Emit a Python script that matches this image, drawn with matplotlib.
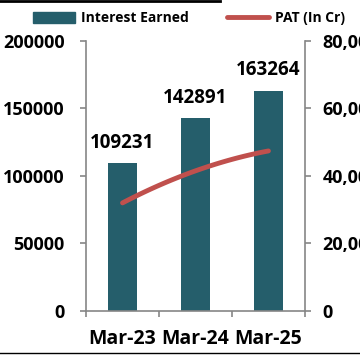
import numpy as np
import matplotlib.pyplot as plt
from matplotlib.lines import Line2D

periods = ['Mar-23', 'Mar-24', 'Mar-25']
interest_earned = [109231, 142891, 163264]
pat = [32000, 41500, 47400]

teal = '#255E6B'
red = '#C0504D'
grey = '#868686'

plt.rcParams['font.family'] = ['Open Sans', 'DejaVu Sans']
plt.rcParams['font.weight'] = 'bold'

fig = plt.figure(figsize=(3.6, 3.59), dpi=100)
ax = fig.add_axes([0.239, 0.134, 0.608, 0.752])
x = np.arange(len(periods))
ax.bar(x, interest_earned, width=0.4, color=teal)
for xi, v in zip(x, interest_earned):
    ax.text(xi, v + 7500, str(v), ha='center', va='bottom', fontsize=13.5, fontweight='bold')

ax.set_xlim(-0.5, 2.5)
ax.set_ylim(0, 200000)
ax.set_yticks([0, 50000, 100000, 150000, 200000])
ax.set_xticks(x)
ax.set_xticklabels(periods, fontsize=14, fontweight='bold')
ax.set_xticks([-0.5, 0.5, 1.5, 2.5], minor=True)
ax.tick_params(axis='x', which='major', length=0, pad=13)
ax.tick_params(axis='x', which='minor', length=4.5, color=grey, width=1.2)
ax.tick_params(axis='y', length=4.5, color=grey, width=1.2, labelsize=13, pad=11)
for lab in ax.get_yticklabels():
    lab.set_fontweight('bold')
for s in ['top', 'right']:
    ax.spines[s].set_visible(False)
for s in ['left', 'bottom']:
    ax.spines[s].set_color(grey)
    ax.spines[s].set_linewidth(1.2)

ax2 = ax.twinx()
xs = np.linspace(0, 2, 50)
# smooth curve through the three points
coef = np.polyfit(x, pat, 2)
ax2.plot(xs, np.polyval(coef, xs), color=red, linewidth=3.5, solid_capstyle='round')
ax2.set_ylim(0, 80000)
ax2.set_yticks([0, 20000, 40000, 60000, 80000])
ax2.set_yticklabels(['0', '20,000', '40,000', '60,000', '80,000'], fontsize=13, fontweight='bold')
ax2.tick_params(axis='y', length=4.5, color=grey, width=1.2, pad=8)
for s in ['top', 'left', 'bottom']:
    ax2.spines[s].set_visible(False)
ax2.spines['right'].set_color(grey)
ax2.spines['right'].set_linewidth(1.2)

handles = [plt.Rectangle((0, 0), 1, 1, color=teal),
           Line2D([0], [0], color=red, linewidth=3.5, solid_capstyle='round')]
fig.legend(handles, ['Interest Earned', 'PAT (In Cr)'], loc='upper center',
           bbox_to_anchor=(0.525, 1.003), ncol=2, frameon=False,
           prop={'weight': 'bold', 'size': 10}, handlelength=3.0, handleheight=0.8,
           handletextpad=0.4, columnspacing=2.8)

fig.add_artist(Line2D([0, 0.61], [0.997, 0.997], color='black', linewidth=2, transform=fig.transFigure))
fig.add_artist(Line2D([0, 1], [0.017, 0.017], color='black', linewidth=1, transform=fig.transFigure))

fig.savefig('out.png', dpi=100)
